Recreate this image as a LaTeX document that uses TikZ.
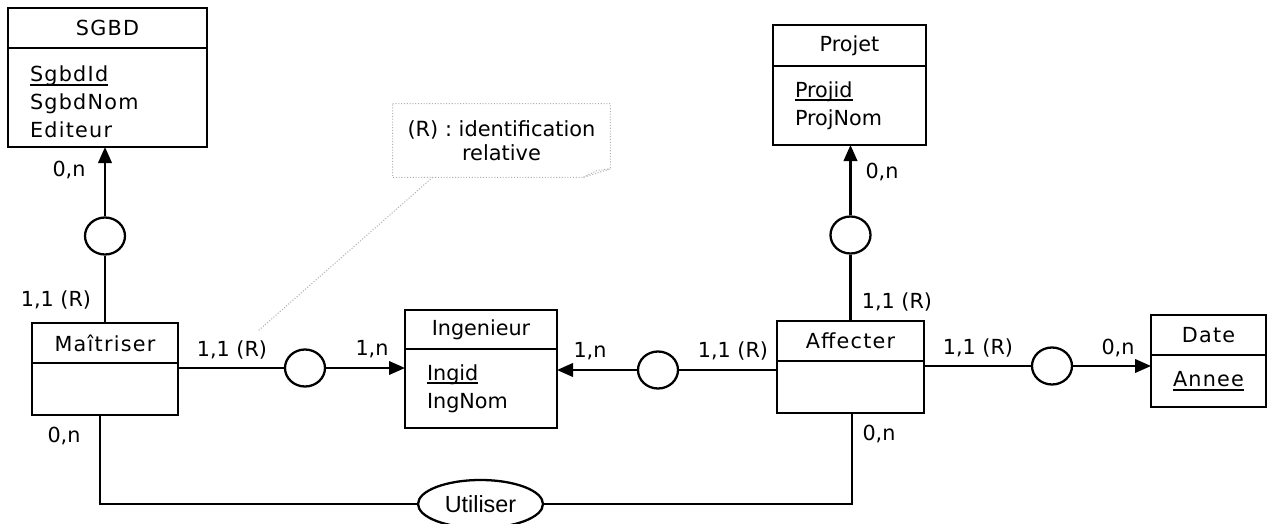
\documentclass[tikz,border=0pt]{standalone}
\usepackage{fontspec}
\setmainfont{DejaVu Sans}
\newfontfamily\espfam[LetterSpace=6]{DejaVu Sans}
\newfontfamily\arialfam{Liberation Sans}
\usetikzlibrary{positioning,arrows.meta,shapes.geometric}
\newcommand{\txt}{\fontsize{11.8}{16}\selectfont}
\newcommand{\cle}[1]{\setbox0\hbox{#1}\rlap{\rule[-0.2em]{\wd0}{0.1em}}#1}
\tikzset{
  boite/.style={draw, line width=1.3pt, inner sep=0pt, outer sep=0pt, font=\txt},
  tete/.style={boite, minimum height=0.8cm},
  corps/.style={boite, inner xsep=0.44cm, align=left},
  esp/.style={font=\espfam\txt},
  rond/.style={draw, line width=1.3pt, ellipse, minimum width=0.8cm, minimum height=0.74cm, inner sep=0pt},
  card/.style={inner sep=0pt, font=\txt},
  lien/.style={line width=1.3pt},
  fleche/.style={line width=1.3pt, -{Triangle[length=0.32cm,width=0.27cm]}},
  notebord/.style={gray!60, densely dotted, line width=0.6pt}
}
\begin{document}
\begin{tikzpicture}
\useasboundingbox (0,0) rectangle (25.34,-10.48);

\node[tete, esp, minimum width=3.98cm] (sgbdH) at (2.15,-0.56) {SGBD};
\node[corps, esp, text width=3.10cm, minimum height=1.98cm, below=0pt of sgbdH] (sgbd)
     {\rule{0pt}{1.2em}\cle{SgbdId}\\SgbdNom\\Editeur};

\node[tete, minimum width=3.06cm, minimum height=0.82cm] (projetH) at (16.99,-0.91) {Projet};
\node[corps, text width=2.18cm, minimum height=1.58cm, below=0pt of projetH] (projet)
     {\cle{Projid}\\ProjNom};

\node[tete, esp, minimum width=2.92cm] (maitH) at (2.10,-6.86) {Maîtriser};
\node[boite, minimum width=2.92cm, minimum height=1.04cm, below=0pt of maitH] (maitB) {};

\node[tete, minimum width=3.04cm, minimum height=0.78cm] (ingH) at (9.62,-6.59) {Ingenieur};
\node[corps, text width=2.16cm, minimum height=1.58cm, below=0pt of ingH] (ingB)
     {\cle{Ingid}\\IngNom};

\node[tete, esp, minimum width=2.94cm] (affH) at (17.01,-6.82) {Affecter};
\node[boite, minimum width=2.94cm, minimum height=1.04cm, below=0pt of affH] (affB) {};

\node[tete, esp, minimum width=2.30cm] (dateH) at (24.17,-6.70) {Date};
\node[corps, esp, align=center, text width=1.42cm, minimum height=1.04cm, below=0pt of dateH] (dateB)
     {\cle{Annee}};

\node[rond] (c1) at (2.10,-4.72) {};
\node[rond] (c2) at (6.10,-7.36) {};
\node[rond] (c3) at (13.16,-7.40) {};
\node[rond] (c4) at (21.04,-7.32) {};
\node[rond] (c5) at (17.01,-4.70) {};
\node[draw, line width=1.3pt, ellipse, minimum width=2.50cm, minimum height=0.96cm, inner sep=0pt,
      font=\arialfam\fontsize{13.3}{15}\selectfont] (util) at (9.61,-10.08) {Utiliser};

\draw[lien] (maitH.north) -- (c1);
\draw[fleche] (c1) -- (c1 |- sgbd.south);
\draw[lien] (c2 -| maitB.east) -- (c2);
\draw[fleche] (c2) -- (c2 -| ingB.west);
\draw[lien] (c3 -| affB.west) -- (c3);
\draw[fleche] (c3) -- (c3 -| ingB.east);
\draw[lien] (c4 -| affB.east) -- (c4);
\draw[fleche] (c4) -- (c4 -| dateB.west);
\draw[lien] (affH.north) -- (c5);
\draw[fleche] (c5) -- (c5 |- projet.south);
\draw[lien] ([xshift=-0.1cm]maitB.south) -- ([xshift=-0.1cm]maitB.south |- util) -- (util);
\draw[lien] (util) -- ([xshift=0.03cm]affB.south |- util) -- ([xshift=0.03cm]affB.south);

\node[card] (cSgbd) at (1.38,-3.40) {0,n};
\node[card] (cMaitHaut) at (1.12,-6.00) {1,1 (R)};
\node[card] (cMaitIng) at (4.64,-7.00) {1,1 (R)};
\node[card] (cIngM) at (7.44,-6.98) {1,n};
\node[card] (cIngA) at (11.80,-7.02) {1,n};
\node[card] (cAffIng) at (14.66,-7.02) {1,1 (R)};
\node[card] (cAffDate) at (19.56,-6.96) {1,1 (R)};
\node[card] (cDate) at (22.36,-6.96) {0,n};
\node[card] (cProjet) at (17.64,-3.44) {0,n};
\node[card] (cAffHaut) at (17.94,-6.04) {1,1 (R)};
\node[card] (cMaitBas) at (1.28,-8.72) {0,n};
\node[card] (cAffBas) at (17.58,-8.68) {0,n};

\node[align=center, inner sep=0pt, minimum width=4.34cm, minimum height=1.46cm,
      font=\fontsize{11.9}{13.6}\selectfont] (note) at (10.03,-2.81) {(R) : identification\\relative};
\draw[notebord] (note.north west) -- (note.north east) -- ([yshift=0.17cm]note.south east)
      -- ([xshift=-0.54cm]note.south east) -- (note.south west) -- cycle;
\draw[notebord] ([xshift=-0.54cm]note.south east) -- ([xshift=-0.26cm,yshift=0.14cm]note.south east)
      -- ([yshift=0.17cm]note.south east);
\draw[notebord] ([xshift=0.8cm]note.south west) -- ([xshift=-0.2cm,yshift=0.18cm]cMaitIng.north east);

\end{tikzpicture}
\end{document}
